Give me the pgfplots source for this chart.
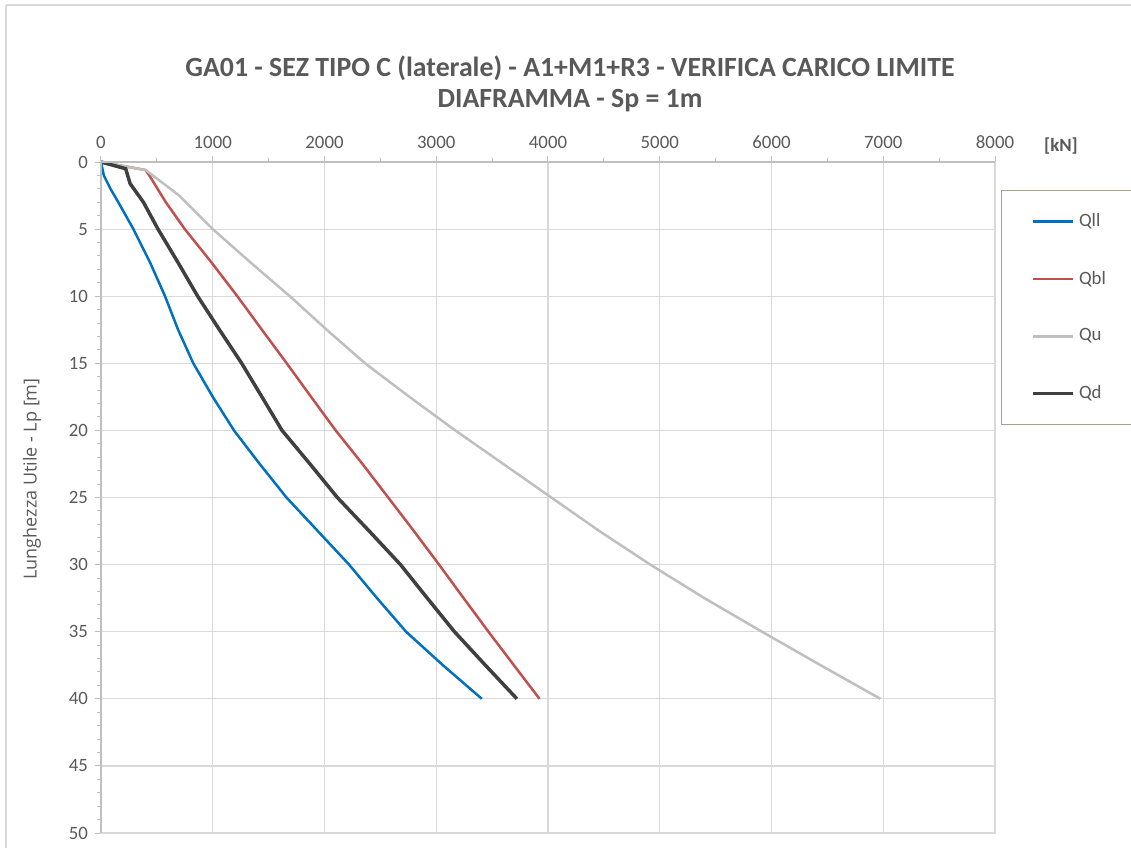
\documentclass[border=0pt]{standalone}
\usepackage{pgfplots}
\pgfplotsset{compat=1.18}
\usepackage{fontspec}
\setmainfont{Carlito}
\newfontfamily\labfont{Open Sans}
\definecolor{cblue}{HTML}{0070C0}
\definecolor{cred}{HTML}{C0504D}
\definecolor{cgray}{HTML}{BFBFBF}
\definecolor{cblack}{HTML}{404040}
\definecolor{gridgray}{HTML}{D9D9D9}
\definecolor{axisgray}{HTML}{BFBFBF}
\definecolor{textgray}{HTML}{595959}
\definecolor{legframe}{HTML}{A8A289}
\begin{document}
\begin{tikzpicture}
\draw[gridgray, line width=1pt] (3pt,421pt) -- (3pt,-20pt);
\draw[gridgray, line width=1pt] (3pt,421pt) -- (600pt,421pt);
\begin{axis}[
  at={(50.5pt,7pt)}, anchor=south west,
  scale only axis, width=447pt, height=335.5pt,
  xmin=0, xmax=8000, ymin=0, ymax=50,
  y dir=reverse,
  xtick={0,1000,...,8000}, ytick={0,5,...,50},
  minor x tick num=1, minor y tick num=4,
  xtick pos=upper, xticklabel pos=upper,
  ytick pos=left, yticklabel pos=left,
  tick align=outside, major tick length=3pt, minor tick length=2pt,
  every tick/.style={axisgray, line width=0.5pt},
  grid=major, major grid style={gridgray, line width=0.6pt},
  axis line style={draw=gridgray, line width=0.6pt},
  ticklabel style={font=\fontsize{9.4}{11}\selectfont, text=textgray},
  /pgf/number format/assume math mode=true,
  /pgf/number format/set thousands separator={},
  legend style={at={(axis description cs:1.0067,0.9583)}, anchor=north west,
    draw=legframe, line width=0.6pt, font=\fontsize{9.4}{11}\selectfont, text=textgray,
    row sep=16.75pt, inner xsep=15pt, inner ysep=9.5pt},
  legend cell align=left,
  legend image code/.code={\draw[#1] (0pt,0pt) -- (20pt,0pt);},
  clip=false,
]
\addplot[cblue, line width=1.25pt] coordinates {
(0,0) (25,1) (85,2) (155,3) (290,5) (440,7.5) (573,10) (690,12.5) (826,15) (1000,17.5) (1190,20) (1420,22.5) (1660,25) (1940,27.5) (2220,30) (2470,32.5) (2730,35) (3060,37.5) (3408,40)};
\addlegendentry{\makebox[70pt][l]{Qll}}
\addplot[cred, line width=1.25pt] coordinates {
(0,0) (400,0.6) (440,1.1) (580,3) (750,5) (990,7.5) (1220,10) (1440,12.5) (1662,15) (1880,17.5) (2100,20) (2340,22.5) (2570,25) (2800,27.5) (3025,30) (3245,32.5) (3467,35) (3695,37.5) (3924,40)};
\addlegendentry{Qbl}
\addplot[cgray, line width=1.25pt] coordinates {
(0,0) (400,0.6) (700,2.5) (1000,5) (1340,7.5) (1690,10) (2020,12.5) (2363,15) (2760,17.5) (3170,20) (3600,22.5) (4030,25) (4460,27.5) (4915,30) (5400,32.5) (5915,35) (6440,37.5) (6974,40)};
\addlegendentry{Qu}
\addplot[cblack, line width=1.75pt] coordinates {
(0,0) (221,0.5) (260,1.6) (380,3) (510,5) (690,7.5) (865,10) (1060,12.5) (1259,15) (1440,17.5) (1620,20) (1870,22.5) (2115,25) (2400,27.5) (2680,30) (2920,32.5) (3163,35) (3440,37.5) (3722,40)};
\addlegendentry{Qd}
\draw[axisgray, line width=0.6pt] (axis cs:0,0) -- (axis cs:8000,0);
\draw[axisgray, line width=0.6pt] (axis cs:0,0) -- (axis cs:0,50);
\end{axis}
\node[font=\fontsize{13.9}{16}\selectfont\bfseries, text=textgray] at (285pt,389.5pt) {GA01 - SEZ TIPO C (laterale) - A1+M1+R3 - VERIFICA CARICO LIMITE};
\node[font=\fontsize{13.9}{16}\selectfont\bfseries, text=textgray] at (285pt,373pt) {DIAFRAMMA - Sp = 1m};
\node[font=\fontsize{9.4}{11}\selectfont\bfseries, text=textgray] at (530.5pt,350.5pt) {[kN]};
\node[font=\labfont\fontsize{9}{11}\selectfont, text=textgray, rotate=90] at (16pt,184pt) {Lunghezza Utile - Lp [m]};
\pgfresetboundingbox
\path[use as bounding box] (0,0) rectangle (565.5pt,423.5pt);
\end{tikzpicture}
\end{document}
